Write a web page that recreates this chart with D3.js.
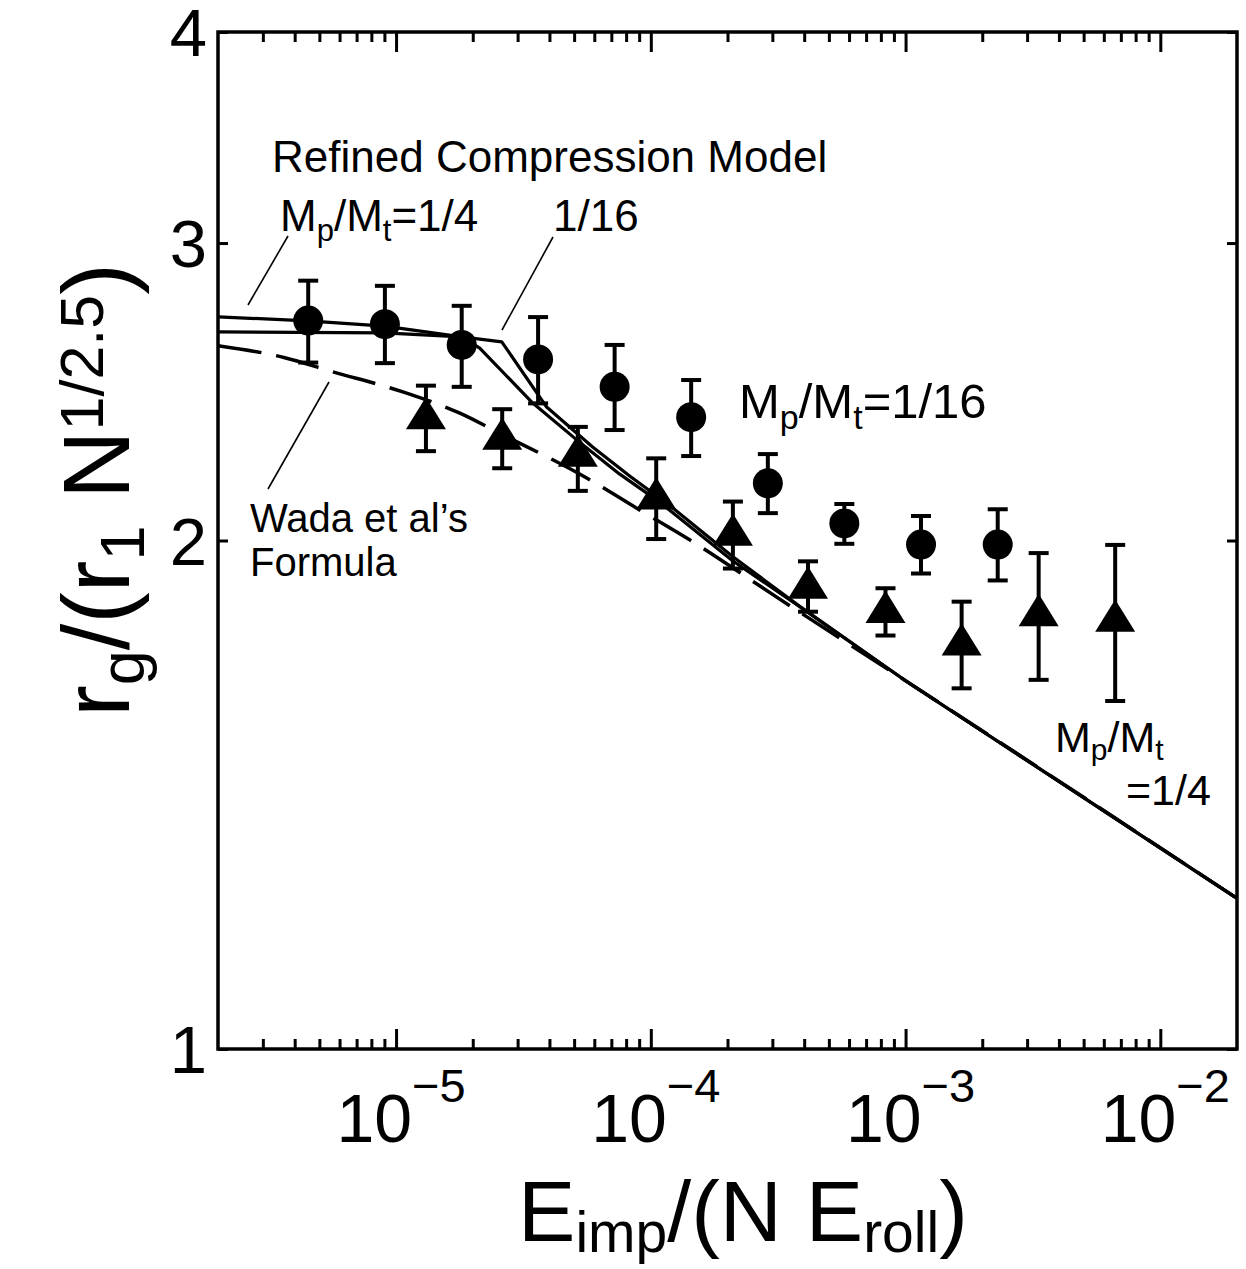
<!DOCTYPE html>
<html><head><meta charset="utf-8">
<script src="https://cdn.jsdelivr.net/npm/d3@7"></script>
<style>
body{margin:0;background:#fff;}
svg{display:block;}
text{font-family:"Liberation Sans",Arial,Helvetica,sans-serif;fill:#000;}
</style>
</head><body>
<svg id="chart" width="1246" height="1269"></svg>
<script>
// ---------------- data ----------------
// Simulation results, Mp/Mt = 1/16 (circles)
const circleX  = [4.52e-6, 9.04e-6, 1.81e-5, 3.61e-5, 7.21e-5, 1.44e-4, 2.88e-4, 5.75e-4, 1.15e-3, 2.30e-3];
const circleY  = [2.699, 2.686, 2.611, 2.560, 2.466, 2.366, 2.162, 2.047, 1.989, 1.989];
const circleHi = [2.850, 2.830, 2.754, 2.712, 2.611, 2.489, 2.250, 2.102, 2.068, 2.087];
const circleLo = [2.549, 2.547, 2.466, 2.411, 2.325, 2.244, 2.076, 1.991, 1.912, 1.894];
// Simulation results, Mp/Mt = 1/4 (triangles)
const triX  = [1.31e-5, 2.61e-5, 5.17e-5, 1.05e-4, 2.10e-4, 4.14e-4, 8.34e-4, 1.66e-3, 3.33e-3, 6.65e-3];
const triY  = [2.362, 2.297, 2.244, 2.117, 2.015, 1.875, 1.814, 1.735, 1.806, 1.792];
const triHi = [2.470, 2.392, 2.335, 2.237, 2.109, 1.944, 1.874, 1.840, 1.966, 1.988];
const triLo = [2.259, 2.207, 2.140, 2.004, 1.925, 1.815, 1.757, 1.635, 1.654, 1.607];
// Refined compression model, Mp/Mt = 1/4
const modelQuarterX = [2e-6, 4.5e-6, 9e-6, 1.81e-5, 2.13e-5, 3.44e-5, 5.12e-5, 7.53e-5, 1.08e-4, 2.10e-4, 3.83e-4, 1e-3, 2e-2];
const modelQuarterY = [2.713, 2.698, 2.679, 2.640, 2.600, 2.412, 2.294, 2.190, 2.108, 1.945, 1.828, 1.652, 1.228];
// Refined compression model, Mp/Mt = 1/16
const modelSixteenthX = [2e-6, 9e-6, 1.81e-5, 2.60e-5, 3.90e-5, 5.91e-5, 8.26e-5, 1.18e-4, 2.10e-4, 3.83e-4, 1e-3, 2e-2];
const modelSixteenthY = [2.658, 2.654, 2.640, 2.622, 2.399, 2.272, 2.184, 2.099, 1.956, 1.829, 1.652, 1.228];
// Wada et al's formula (dashed)
const wadaX = [2e-6, 3.66e-6, 5.5e-6, 1.063e-5, 1.78e-5, 2.55e-5, 5.6e-5, 9.04e-5, 1.42e-4, 3.11e-4, 1e-3, 2e-2];
const wadaY = [2.608, 2.566, 2.520, 2.449, 2.379, 2.315, 2.178, 2.085, 2.002, 1.852, 1.652, 1.228];
// ticks
const xMajorTicks = [1e-5, 1e-4, 1e-3, 1e-2];
const xMajorLabels = ["\u22125", "\u22124", "\u22123", "\u22122"];
const yTicks = [1, 2, 3, 4];
const yTickLabels = ["1", "2", "3", "4"];

// ---------------- chart ----------------
const svg = d3.select("#chart");
const L = 218, R = 1237, T = 32, B = 1049;
const x = d3.scaleLog().domain([2e-6, 2e-2]).range([L, R]);
const y = d3.scaleLog().domain([1, 4]).range([B, T]);

const xMinorTicks = [];
for (let e = -6; e <= -2; e++) for (let m = 2; m <= 9; m++) {
  const v = m * Math.pow(10, e);
  if (v > 2.05e-6 && v < 1.95e-2) xMinorTicks.push(v);
}

function styleAxis(g) {
  g.select(".domain").remove();
  g.selectAll(".tick line").attr("stroke", "#000").attr("stroke-width", 3);
  g.selectAll(".tick text").remove();
}
svg.append("g").attr("transform", `translate(0,${B})`)
  .call(d3.axisBottom(x).tickValues(xMajorTicks).tickSize(-20).tickFormat("")).call(styleAxis);
svg.append("g").attr("transform", `translate(0,${B})`)
  .call(d3.axisBottom(x).tickValues(xMinorTicks).tickSize(-10).tickFormat("")).call(styleAxis);
svg.append("g").attr("transform", `translate(0,${T})`)
  .call(d3.axisTop(x).tickValues(xMajorTicks).tickSize(-20).tickFormat("")).call(styleAxis);
svg.append("g").attr("transform", `translate(0,${T})`)
  .call(d3.axisTop(x).tickValues(xMinorTicks).tickSize(-10).tickFormat("")).call(styleAxis);
svg.append("g").attr("transform", `translate(${L},0)`)
  .call(d3.axisLeft(y).tickValues(yTicks).tickSize(-10).tickFormat("")).call(styleAxis);
svg.append("g").attr("transform", `translate(${R},0)`)
  .call(d3.axisRight(y).tickValues(yTicks).tickSize(-10).tickFormat("")).call(styleAxis);

// frame
svg.append("rect").attr("x", L).attr("y", T).attr("width", R - L).attr("height", B - T)
  .attr("fill", "none").attr("stroke", "#000").attr("stroke-width", 3.5);

// tick labels
yTicks.forEach((v, i) => {
  svg.append("text").attr("x", 207).attr("y", y(v) + 24).attr("text-anchor", "end")
    .attr("font-size", 67).text(yTickLabels[i]);
});
xMajorTicks.forEach((v, i) => {
  const t = svg.append("text").attr("x", x(v) + 5).attr("y", 1142).attr("text-anchor", "middle").attr("font-size", 68);
  t.append("tspan").text("10");
  t.append("tspan").attr("dy", -40).attr("font-size", 47).text(xMajorLabels[i]);
});

// curves
const lineGen = d3.line().x(d => x(d[0])).y(d => y(d[1]));
const wadaLine = d3.line().x(d => x(d[0])).y(d => y(d[1])).curve(d3.curveMonotoneX);
svg.append("path").datum(d3.zip(wadaX, wadaY)).attr("d", wadaLine)
  .attr("fill", "none").attr("stroke", "#000").attr("stroke-width", 3.5).attr("stroke-dasharray", "44,15");
svg.append("path").datum(d3.zip(modelQuarterX, modelQuarterY)).attr("d", lineGen)
  .attr("fill", "none").attr("stroke", "#000").attr("stroke-width", 3.2).attr("stroke-linejoin", "round");
svg.append("path").datum(d3.zip(modelSixteenthX, modelSixteenthY)).attr("d", lineGen)
  .attr("fill", "none").attr("stroke", "#000").attr("stroke-width", 3.2).attr("stroke-linejoin", "round");

// error bars
function errorBars(xs, lo, hi) {
  const g = svg.append("g").attr("stroke", "#000").attr("stroke-width", 4);
  xs.forEach((v, i) => {
    const cx = x(v);
    g.append("line").attr("x1", cx).attr("x2", cx).attr("y1", y(lo[i])).attr("y2", y(hi[i]));
    g.append("line").attr("x1", cx - 10).attr("x2", cx + 10).attr("y1", y(lo[i])).attr("y2", y(lo[i]));
    g.append("line").attr("x1", cx - 10).attr("x2", cx + 10).attr("y1", y(hi[i])).attr("y2", y(hi[i]));
  });
}
errorBars(circleX, circleLo, circleHi);
errorBars(triX, triLo, triHi);

// markers
svg.append("g").selectAll("circle").data(d3.zip(circleX, circleY)).join("circle")
  .attr("cx", d => x(d[0])).attr("cy", d => y(d[1])).attr("r", 15).attr("fill", "#000");
svg.append("g").selectAll("path").data(d3.zip(triX, triY)).join("path")
  .attr("transform", d => `translate(${x(d[0])},${y(d[1])})`)
  .attr("d", "M0,-21.5L20,10.8L-20,10.8Z").attr("fill", "#000");

// annotations
function subLabel(xp, yp, size, parts, opts) {
  const o = Object.assign({sub: 0.22, sup: 0.45, ratio: 0.7, supRatio: 0.7}, opts || {});
  const t = svg.append("text").attr("x", xp).attr("y", yp).attr("font-size", size);
  let shift = 0;
  parts.forEach(p => {
    const ts = t.append("tspan").text(p[0]);
    const target = p[1] === "sub" ? Math.round(size * o.sub) : (p[1] === "sup" ? -Math.round(size * o.sup) : 0);
    if (target !== shift) { ts.attr("dy", target - shift); shift = target; }
    if (p[1] === "sub") ts.attr("font-size", Math.round(size * o.ratio));
    if (p[1] === "sup") ts.attr("font-size", Math.round(size * o.supRatio));
  });
  return t;
}
svg.append("text").attr("x", 272).attr("y", 172).attr("font-size", 44).text("Refined Compression Model");
subLabel(280, 231, 44, [["M"], ["p", "sub"], ["/M"], ["t", "sub"], ["=1/4"]]);
svg.append("text").attr("x", 553).attr("y", 231).attr("font-size", 44).text("1/16");
subLabel(739, 418, 49, [["M"], ["p", "sub"], ["/M"], ["t", "sub"], ["=1/16"]]);
const wadaText = svg.append("text").attr("x", 250).attr("y", 532).attr("font-size", 40);
wadaText.append("tspan").attr("x", 250).text("Wada et al\u2019s");
wadaText.append("tspan").attr("x", 250).attr("dy", 44).text("Formula");
const brText = subLabel(1055, 752, 43, [["M"], ["p", "sub"], ["/M"], ["t", "sub"]], {sub: 0.18});
brText.append("tspan").attr("x", 1126).attr("dy", 45).attr("font-size", 43).text("=1/4");

// pointer lines
const pointers = [[248, 305, 288, 236], [502, 330, 553, 237], [329, 382, 268, 489]];
pointers.forEach(p => svg.append("line").attr("x1", p[0]).attr("y1", p[1]).attr("x2", p[2]).attr("y2", p[3])
  .attr("stroke", "#000").attr("stroke-width", 1.6));

// axis titles
subLabel(518, 1241, 86, [["E"], ["imp", "sub"], ["/(N E"], ["roll", "sub"], [")"]], {sub: 0.13, ratio: 0.66});
const yt = subLabel(0, 0, 95, [["r"], ["g", "sub"], ["/(r"], ["1", "sub"], [" N"], ["1/2.5", "sup"], [")"]],
  {sub: 0.16, ratio: 0.66, sup: 0.27, supRatio: 0.64});
yt.attr("text-anchor", "middle").attr("transform", "translate(129,490) rotate(-90)");
</script>
</body></html>
